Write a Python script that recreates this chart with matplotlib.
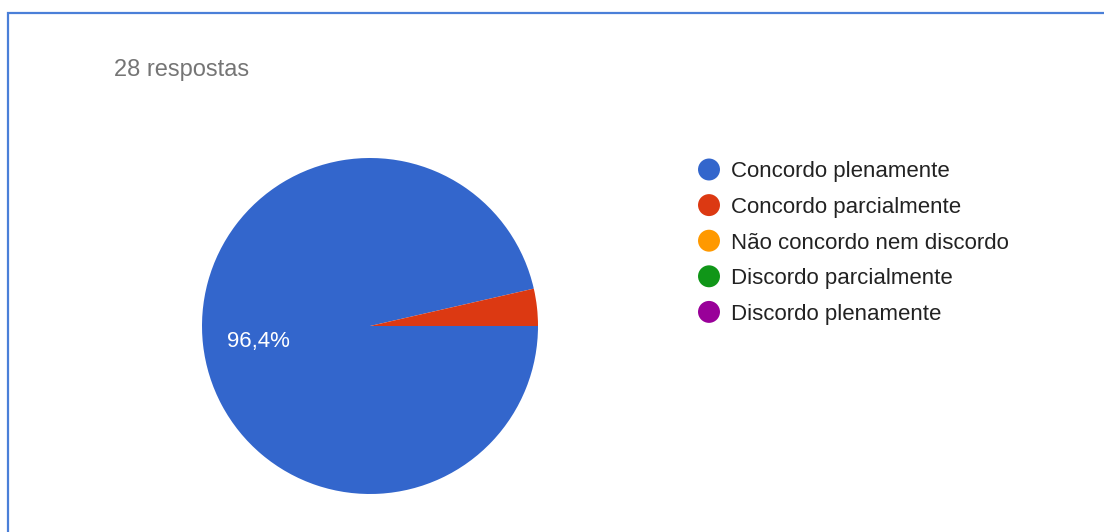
import matplotlib
matplotlib.use('Agg')
import matplotlib.pyplot as plt

plt.rcParams['font.family'] = ['Liberation Sans', 'DejaVu Sans']

# ─── Data ─────────────────────────────────────────────────────────────────────

TITLE      = '28 respostas'
CATEGORIES = ['Concordo plenamente', 'Concordo parcialmente',
              'Não concordo nem discordo', 'Discordo parcialmente',
              'Discordo plenamente']
COUNTS     = [27, 1, 0, 0, 0]
COLORS     = ['#3366cc', '#dc3912', '#ff9900', '#109618', '#990099']

W, H = 1104, 532

# ─── Figure in pixel coordinates ──────────────────────────────────────────────

fig = plt.figure(figsize=(W / 100, H / 100), dpi=100)
ax = fig.add_axes([0, 0, 1, 1])

# card border (top + left)
ax.plot([8, 8, W], [0, H - 12.5, H - 12.5], color='#4a7fd8', lw=1.6,
        solid_capstyle='butt', solid_joinstyle='miter')

ax.text(114, H - 70, TITLE, fontsize=17, color='#757575', va='center', ha='left')

# ─── Pie ──────────────────────────────────────────────────────────────────────


def pct_label(p):
    return (f'{p:.1f}%'.replace('.', ',')) if p > 10 else ''


wedges, texts, autotexts = ax.pie(
    COUNTS, colors=COLORS, center=(370, H - 326), radius=168,
    startangle=0, counterclock=False, autopct=pct_label, pctdistance=0.67,
    wedgeprops=dict(linewidth=0), frame=True,
    textprops=dict(color='white', fontsize=16),
)
for t in autotexts:
    x, y = t.get_position()
    t.set_position((x, y - 3))

ax.set_xlim(0, W)
ax.set_ylim(0, H)
ax.set_aspect('auto')
ax.axis('off')

# ─── Legend ───────────────────────────────────────────────────────────────────

for i, (cat, col) in enumerate(zip(CATEGORIES, COLORS)):
    y = H - (169.5 + i * 35.6)
    ax.scatter([709], [y], s=250, color=col, edgecolors='none')
    ax.text(731, y - 2.5, cat, fontsize=16, color='#222222', va='center', ha='left')

fig.savefig('out.png', dpi=100)
